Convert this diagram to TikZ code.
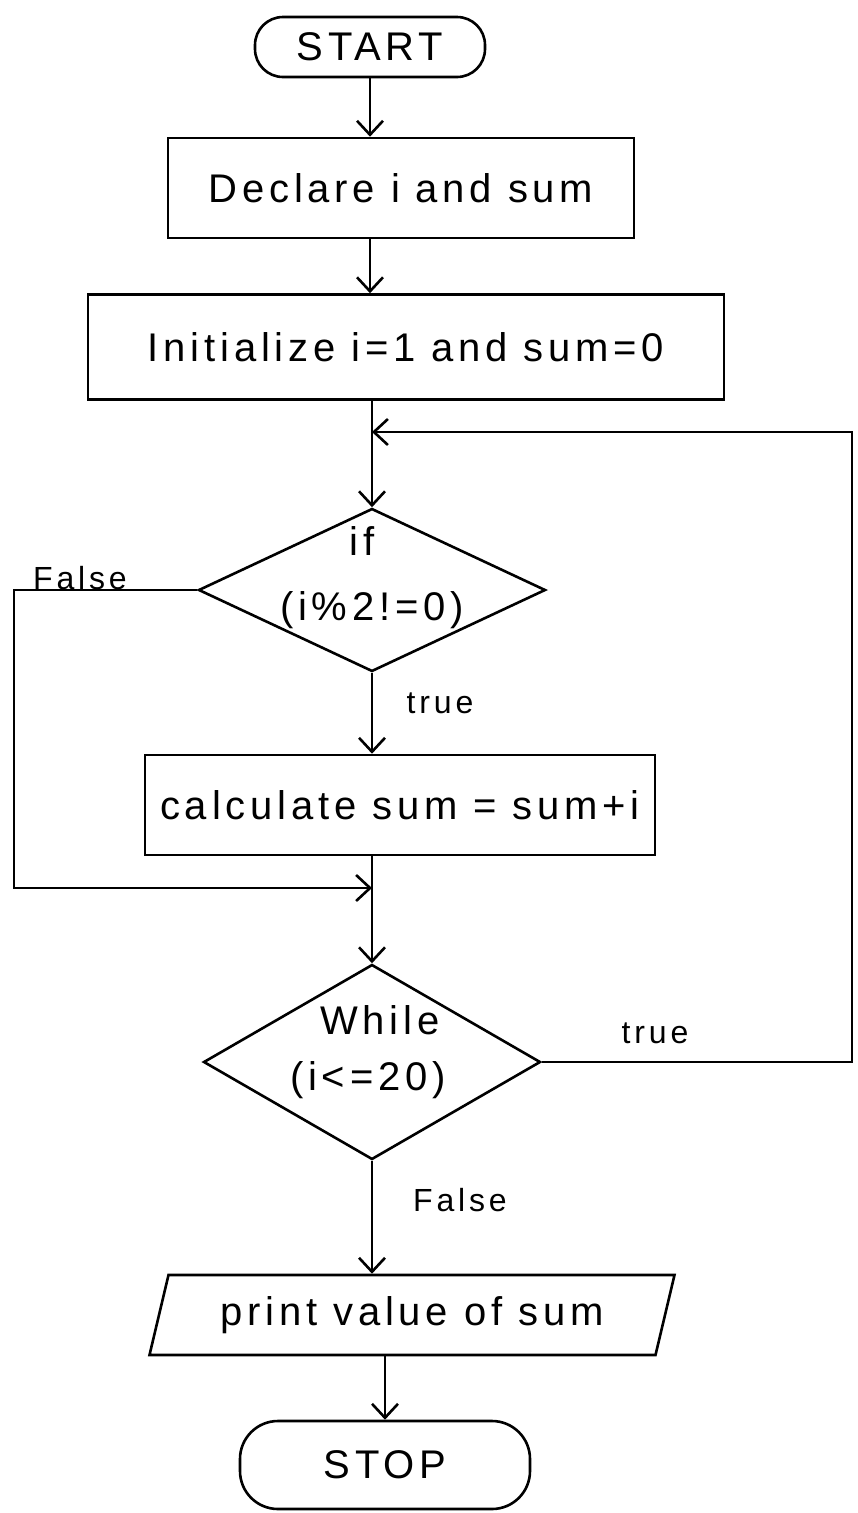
\documentclass[tikz,border=0pt]{standalone}
\usepackage{fontspec}
\setmainfont{Liberation Sans}[LetterSpace=12]
\usetikzlibrary{shapes.geometric,arrows.meta}
\begin{document}
\begin{tikzpicture}[x=1pt,y=-1pt,
  line width=2.6pt,
  >={Straight Barb[length=14pt,width=26pt]},
  every node/.style={font=\fontsize{40}{48}\selectfont, inner sep=0pt},
  lbl/.style={font=\fontsize{32}{38}\selectfont},
  term/.style={draw, rectangle, rounded corners=28pt},
  procbox/.style={draw, rectangle},
  decision/.style={draw, diamond},
  iobox/.style={draw, trapezium, trapezium stretches body,
    trapezium left angle=63, trapezium right angle=117}
]
\useasboundingbox (0,0) rectangle (858,1513);

% nodes
\node[term, minimum width=230pt, minimum height=60pt] (start) at (370,47) {START};
\node[procbox, minimum width=466pt, minimum height=100pt] (declare) at (401,188) {Declare i and sum};
\node[procbox, minimum width=636pt, minimum height=105pt] (init) at (406,347) {Initialize i=1 and sum=0};
\node[decision, minimum width=347pt, minimum height=163pt] (if) at (372,590) {};
\node (iftxt) at (362,541) {if};
\node (ifcond) at (372,610) {(i\%2!=0)};
\node[procbox, minimum width=510pt, minimum height=100pt] (calc) at (400,805) {calculate sum = sum+i};
\node[decision, minimum width=337pt, minimum height=195pt] (while) at (372,1062) {};
\node (whtxt) at (380,1020) {While};
\node (whcond) at (368,1080) {(i<=20)};
\node[iobox, minimum width=525pt, minimum height=80pt] (print) at (412,1315) {print value of sum};
\node[term, minimum width=290pt, minimum height=88pt, rounded corners=38pt] (stop) at (385,1465) {STOP};

% labels
\node[lbl] (lfalse1) at (80,578) {False};
\node[lbl] (ltrue1) at (440,703) {true};
\node[lbl] (ltrue2) at (655,1033) {true};
\node[lbl] (lfalse2) at (460,1200) {False};

% helper coordinates
\coordinate (fl1) at (14,590);
\coordinate (fl2) at (14,888);
\coordinate (mg) at (372,888);
\coordinate (lr1) at (852,1062);
\coordinate (lr2) at (852,432);
\coordinate (lj) at (372,432);

% connectors
\draw[->] (start.south) -- (start.south |- declare.north);
\draw[->] (start.south |- declare.south) -- (start.south |- init.north);
\draw[->] (if.north |- init.south) -- (if.north);
\draw[->] (if.south) -- (if.south |- calc.north);
\draw[->] (if.west) -- (fl1) -- (fl2) -- (mg);
\draw[->] (while.north |- calc.south) -- (while.north);
\draw[->] (while.east) -- (lr1) -- (lr2) -- (lj);
\draw[->] (while.south) -- (while.south |- print.north);
\draw[->] (stop.north |- print.south) -- (stop.north);
\end{tikzpicture}
\end{document}
